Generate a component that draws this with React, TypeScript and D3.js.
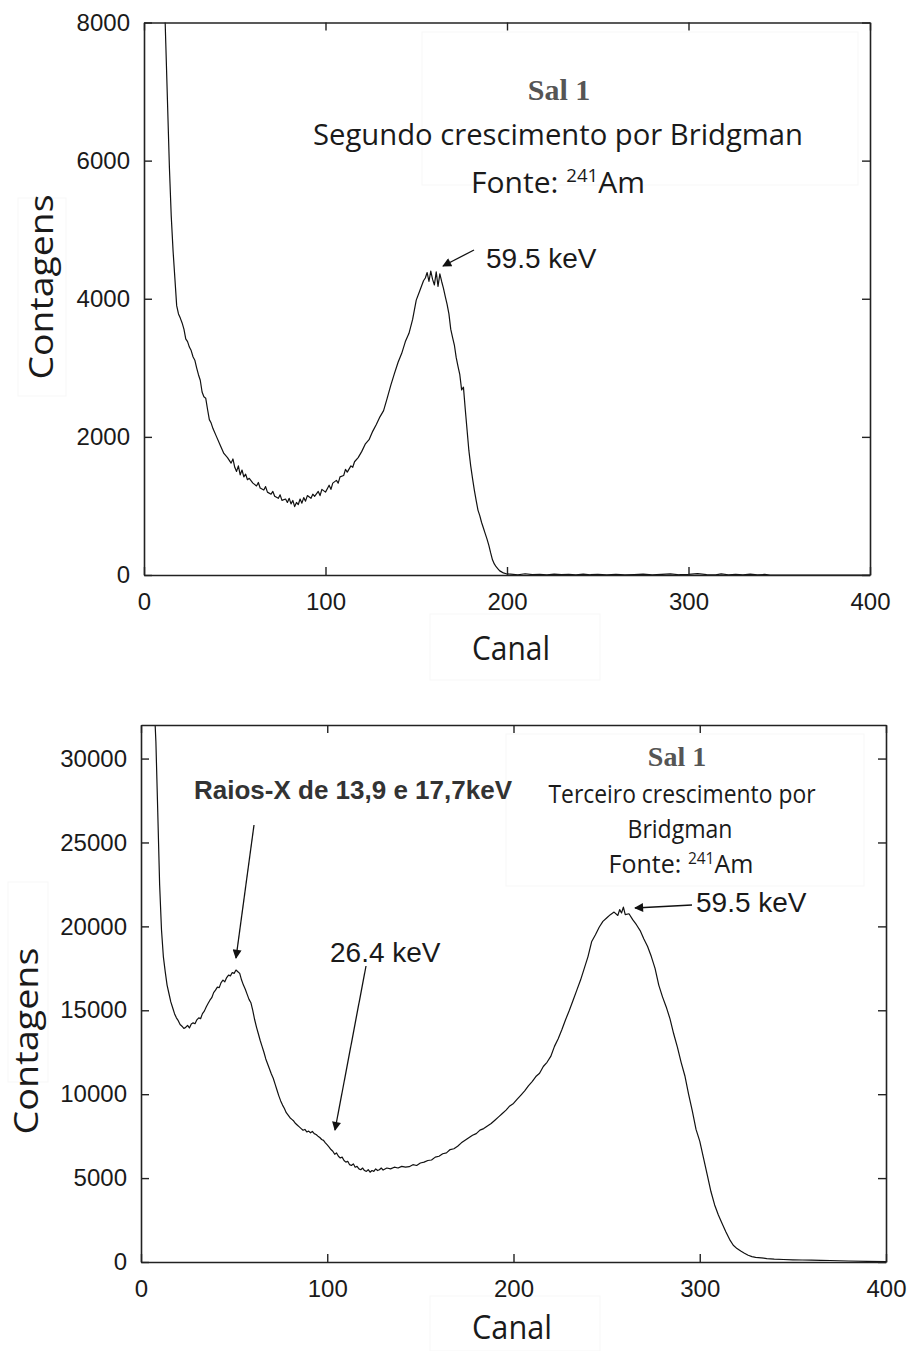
import React, { useEffect, useRef } from 'react';
import * as d3 from 'd3';

// espectro 1: segundo crescimento por Bridgman  [canal, contagens]
const segundo: [number, number][] = [
  [10, 9800], [11, 8600], [12, 7700], [13, 6800], [14, 5900], [15, 5200], [16, 4700], [17, 4300],
  [18, 3900], [19, 3780], [20, 3720], [21, 3650], [22, 3560], [23, 3420], [24, 3380], [25, 3300],
  [26, 3250], [27, 3160], [28, 3110], [29, 3000], [30, 2900], [31, 2820], [32, 2650], [33, 2580],
  [34, 2560], [35, 2400], [36, 2250], [37, 2200], [38, 2120], [40, 2000], [42, 1880], [44, 1760],
  [46, 1700], [48, 1620], [49, 1680], [50, 1560], [51, 1500], [52, 1580], [53, 1450], [54, 1520],
  [55, 1420], [56, 1460], [57, 1380], [58, 1400], [60, 1330], [62, 1290], [63, 1340], [64, 1260],
  [66, 1230], [67, 1280], [68, 1200], [70, 1170], [71, 1210], [72, 1140], [74, 1110], [75, 1160],
  [76, 1080], [78, 1100], [79, 1050], [80, 1110], [81, 1030], [82, 1080], [83, 990], [84, 1050],
  [85, 1020], [86, 1100], [87, 1040], [88, 1120], [89, 1070], [90, 1150], [92, 1110], [93, 1170],
  [94, 1140], [96, 1210], [97, 1150], [98, 1240], [100, 1200], [101, 1250], [102, 1300], [103, 1240],
  [104, 1330], [106, 1370], [107, 1330], [108, 1420], [110, 1440], [111, 1530], [112, 1490], [114, 1580],
  [115, 1560], [116, 1640], [118, 1700], [120, 1790], [122, 1900], [124, 1960], [126, 2080], [128, 2180],
  [130, 2290], [132, 2380], [134, 2560], [136, 2750], [138, 2920], [140, 3080], [142, 3210], [144, 3380],
  [146, 3500], [148, 3700], [150, 3980], [152, 4120], [154, 4260], [155, 4300], [156, 4380], [157, 4250],
  [158, 4400], [159, 4280], [160, 4200], [161, 4390], [162, 4180], [163, 4360], [164, 4250], [165, 4150],
  [166, 4030], [167, 3920], [168, 3780], [169, 3560], [170, 3440], [171, 3330], [172, 3150], [173, 3020],
  [174, 2900], [175, 2680], [176, 2720], [177, 2400], [178, 2100], [179, 1800], [180, 1580], [181, 1400],
  [182, 1230], [183, 1080], [184, 940], [185, 860], [186, 760], [187, 680], [188, 600], [189, 520],
  [190, 430], [191, 320], [192, 220], [193, 160], [194, 120], [195, 90], [196, 60], [197, 45],
  [198, 30], [200, 15], [202, 12], [206, 4], [210, 18], [214, 6], [218, 10], [222, 3],
  [226, 14], [230, 5], [234, 9], [238, 2], [242, 12], [246, 4], [250, 8], [255, 3],
  [260, 10], [265, 2], [270, 7], [275, 12], [280, 3], [285, 8], [290, 15], [295, 4],
  [300, 9], [305, 20], [310, 6], [315, 3], [318, 15], [322, 4], [326, 10], [330, 2],
  [334, 12], [338, 3], [342, 8], [345, 0], [400, 0],
];

// espectro 2: terceiro crescimento por Bridgman
const terceiro: [number, number][] = [
  [7, 33500], [8, 31000], [9, 26800], [10, 22500], [11, 19800], [12, 18200], [13, 17300], [14, 16500],
  [15, 16000], [16, 15500], [17, 15150], [18, 14800], [19, 14550], [20, 14380], [21, 14150], [22, 14050],
  [23, 13920], [24, 13980], [25, 14100], [26, 13950], [27, 14180], [28, 14250], [29, 14200], [30, 14430],
  [31, 14550], [32, 14500], [33, 14800], [34, 14950], [35, 15200], [36, 15400], [37, 15600], [38, 15750],
  [39, 16050], [40, 16200], [41, 16380], [42, 16350], [43, 16650], [44, 16800], [45, 16700], [46, 16950],
  [47, 17100], [48, 17050], [49, 17250], [50, 17200], [51, 17400], [52, 17300], [53, 17200], [54, 16800],
  [55, 16500], [56, 16250], [57, 15950], [58, 15650], [59, 15450], [60, 15000], [61, 14450], [62, 14000],
  [63, 13600], [64, 13200], [65, 12850], [66, 12500], [67, 12100], [68, 11800], [69, 11500], [70, 11200],
  [71, 10950], [72, 10600], [73, 10250], [74, 9900], [75, 9600], [76, 9350], [77, 9150], [78, 8900],
  [79, 8750], [80, 8600], [81, 8500], [82, 8400], [83, 8250], [84, 8150], [85, 8050], [86, 7950],
  [87, 7850], [88, 7900], [89, 7750], [90, 7800], [91, 7700], [92, 7780], [93, 7650], [94, 7600],
  [95, 7500], [96, 7420], [97, 7300], [98, 7250], [99, 7100], [100, 6980], [101, 6850], [102, 6700],
  [103, 6600], [104, 6420], [105, 6500], [106, 6300], [107, 6200], [108, 6250], [109, 6050], [110, 5950],
  [111, 6000], [112, 5800], [113, 5750], [114, 5850], [115, 5650], [116, 5700], [117, 5550], [118, 5500],
  [119, 5600], [120, 5450], [121, 5400], [122, 5500], [123, 5350], [124, 5450], [125, 5400], [126, 5550],
  [127, 5450], [128, 5500], [129, 5600], [130, 5480], [132, 5600], [134, 5550], [136, 5650], [138, 5600],
  [140, 5700], [142, 5650], [144, 5680], [146, 5800], [148, 5750], [150, 5900], [152, 5950], [154, 6050],
  [156, 6080], [158, 6250], [160, 6300], [162, 6450], [164, 6500], [166, 6700], [168, 6750], [170, 6900],
  [172, 7100], [174, 7250], [176, 7400], [178, 7550], [180, 7650], [182, 7860], [184, 7950], [186, 8100],
  [188, 8250], [190, 8450], [192, 8650], [194, 8850], [196, 9050], [198, 9300], [200, 9450], [202, 9700],
  [204, 9950], [206, 10200], [208, 10500], [210, 10750], [212, 11050], [214, 11250], [216, 11650], [218, 11900],
  [220, 12250], [222, 12850], [224, 13300], [226, 13850], [228, 14450], [230, 15000], [232, 15600], [234, 16200],
  [236, 16800], [238, 17500], [240, 18200], [242, 19100], [244, 19500], [246, 19950], [248, 20300], [250, 20500],
  [252, 20700], [254, 20850], [256, 20650], [257, 21000], [258, 20800], [259, 21150], [260, 20700], [262, 20750],
  [264, 20400], [266, 20100], [268, 19750], [270, 19250], [272, 18800], [274, 18200], [276, 17500], [278, 16500],
  [280, 15800], [282, 15200], [284, 14500], [286, 13600], [288, 12800], [290, 11900], [292, 11100], [294, 10000],
  [296, 9000], [298, 7900], [300, 7200], [302, 6200], [304, 5200], [306, 4200], [308, 3400], [310, 2800],
  [312, 2300], [314, 1800], [316, 1350], [318, 1000], [320, 800], [322, 650], [324, 520], [326, 400],
  [328, 320], [330, 280], [333, 250], [336, 200], [340, 170], [345, 150], [350, 130], [355, 120],
  [360, 110], [365, 100], [370, 90], [380, 60], [390, 40], [400, 30],
];

const canalTicks = [0, 100, 200, 300, 400];
const topTicks = [0, 2000, 4000, 6000, 8000];
const bottomTicks = [0, 5000, 10000, 15000, 20000, 25000, 30000];

const TICK_FONT = "'Liberation Sans', Arial, sans-serif";
const TITLE_FONT = "'Open Sans', 'Noto Sans', sans-serif";
const SERIF = "'Liberation Serif', 'Times New Roman', serif";

function drawPanel(svg, p) {
  const x = d3.scaleLinear().domain([0, 400]).range([p.left, p.right]);
  const y = d3.scaleLinear().domain([0, p.yMax]).range([p.bottom, p.top]);

  svg.select('defs').append('clipPath').attr('id', p.id)
    .append('rect')
    .attr('x', p.left).attr('y', p.top)
    .attr('width', p.right - p.left).attr('height', p.bottom - p.top);

  const line = d3.line().x((d) => x(d[0])).y((d) => y(d[1]));
  svg.append('path')
    .datum(p.data)
    .attr('d', line)
    .attr('clip-path', `url(#${p.id})`)
    .attr('fill', 'none')
    .attr('stroke', '#111')
    .attr('stroke-width', 1.2)
    .attr('stroke-linejoin', 'round');

  const style = (g) => {
    g.selectAll('.domain').attr('stroke', '#222').attr('stroke-width', 1.6);
    g.selectAll('.tick line').attr('stroke', '#222').attr('stroke-width', 1.4);
    g.selectAll('text').attr('font-family', TICK_FONT).attr('font-size', 24).attr('fill', '#1a1a1a');
  };

  svg.append('g').attr('transform', `translate(0,${p.bottom})`)
    .call(d3.axisBottom(x).tickValues(canalTicks).tickSize(-8).tickSizeOuter(0).tickPadding(18))
    .call(style);
  svg.append('g').attr('transform', `translate(0,${p.top})`)
    .call(d3.axisTop(x).tickValues(canalTicks).tickSize(-8).tickSizeOuter(0).tickFormat(() => ''))
    .call(style);
  svg.append('g').attr('transform', `translate(${p.left},0)`)
    .call(d3.axisLeft(y).tickValues(p.yTicks).tickSize(-8).tickSizeOuter(0).tickPadding(14).tickFormat(d3.format('d')))
    .call(style);
  svg.append('g').attr('transform', `translate(${p.right},0)`)
    .call(d3.axisRight(y).tickValues(p.yTicks).tickSize(-8).tickSizeOuter(0).tickFormat(() => ''))
    .call(style);

  return { x, y };
}

function addText(svg, t) {
  const el = svg.append('text')
    .attr('x', t.x).attr('y', t.y)
    .attr('text-anchor', t.anchor || 'middle')
    .attr('font-family', t.font)
    .attr('font-size', t.size)
    .attr('font-weight', t.weight || 'normal')
    .attr('fill', t.fill || '#1a1a1a');
  if (t.rotate) el.attr('transform', `rotate(-90,${t.x},${t.y})`);
  if (t.len) el.attr('textLength', t.len).attr('lengthAdjust', 'spacingAndGlyphs');
  el.text(t.text);
  return el;
}

function addFonte(svg, cx, y, size) {
  const el = svg.append('text')
    .attr('x', cx).attr('y', y)
    .attr('text-anchor', 'middle')
    .attr('font-family', TITLE_FONT)
    .attr('font-size', size)
    .attr('fill', '#1a1a1a');
  el.append('tspan').text('Fonte: ');
  el.append('tspan').attr('font-size', size * 0.62).attr('dy', -size * 0.38).text('241');
  el.append('tspan').attr('dy', size * 0.38).text('Am');
}

function addArrow(svg, x1, y1, x2, y2) {
  svg.append('line')
    .attr('x1', x1).attr('y1', y1).attr('x2', x2).attr('y2', y2)
    .attr('stroke', '#111').attr('stroke-width', 1.3)
    .attr('marker-end', 'url(#seta)');
}

function App() {
  const ref = useRef(null);

  useEffect(() => {
    const svg = d3.select(ref.current);
    svg.selectAll('*').remove();
    const defs = svg.append('defs');
    defs.append('marker')
      .attr('id', 'seta')
      .attr('viewBox', '0 0 10 10')
      .attr('refX', 9).attr('refY', 5)
      .attr('markerUnits', 'userSpaceOnUse')
      .attr('markerWidth', 12).attr('markerHeight', 9)
      .attr('orient', 'auto')
      .append('path').attr('d', 'M0,0 L10,5 L0,10 Z').attr('fill', '#111');

    svg.append('rect').attr('width', 910).attr('height', 1351).attr('fill', '#fff');

    // caixas de texto coladas (quase invisiveis)
    const faint = [[422, 32, 436, 153], [18, 198, 48, 198], [430, 614, 170, 66], [506, 734, 358, 152], [8, 882, 40, 200], [430, 1296, 170, 55]];
    faint.forEach(([bx, by, bw, bh]) => {
      svg.append('rect').attr('x', bx).attr('y', by).attr('width', bw).attr('height', bh)
        .attr('fill', 'none').attr('stroke', '#f7f7f7').attr('stroke-width', 1);
    });

    // painel superior
    drawPanel(svg, { id: 'clipTop', left: 144, right: 870, top: 22.5, bottom: 575, yMax: 8000, yTicks: topTicks, data: segundo });
    addText(svg, { x: 53, y: 287, text: 'Contagens', font: TITLE_FONT, size: 33, rotate: true, len: 185 });
    addText(svg, { x: 511, y: 660, text: 'Canal', font: TITLE_FONT, size: 32, len: 78 });
    addText(svg, { x: 559, y: 100, text: 'Sal 1', font: SERIF, size: 30, weight: 'bold', fill: '#555' });
    addText(svg, { x: 558, y: 145, text: 'Segundo crescimento por Bridgman', font: TITLE_FONT, size: 30, len: 490 });
    addFonte(svg, 558, 193, 30);
    addText(svg, { x: 486, y: 268, text: '59.5 keV', font: TICK_FONT, size: 28, anchor: 'start' });
    addArrow(svg, 474, 250, 443, 266);

    // painel inferior
    drawPanel(svg, { id: 'clipBottom', left: 141, right: 886, top: 725, bottom: 1262, yMax: 32000, yTicks: bottomTicks, data: terceiro });
    addText(svg, { x: 38, y: 1041, text: 'Contagens', font: TITLE_FONT, size: 33, rotate: true, len: 187 });
    addText(svg, { x: 512, y: 1339, text: 'Canal', font: TITLE_FONT, size: 32, len: 80 });
    addText(svg, { x: 677, y: 766, text: 'Sal 1', font: SERIF, size: 28, weight: 'bold', fill: '#555' });
    addText(svg, { x: 682, y: 803, text: 'Terceiro crescimento por', font: TITLE_FONT, size: 25, len: 267 });
    addText(svg, { x: 680, y: 838, text: 'Bridgman', font: TITLE_FONT, size: 25, len: 105 });
    addFonte(svg, 681, 873, 25);
    addText(svg, { x: 696, y: 912, text: '59.5 keV', font: TICK_FONT, size: 28, anchor: 'start' });
    addArrow(svg, 692, 905, 635, 908);
    addText(svg, { x: 194, y: 799, text: 'Raios-X de 13,9 e 17,7keV', font: TICK_FONT, size: 26, weight: 'bold', anchor: 'start', fill: '#333' });
    addArrow(svg, 254, 825, 236, 958);
    addText(svg, { x: 330, y: 962, text: '26.4 keV', font: TICK_FONT, size: 28, anchor: 'start' });
    addArrow(svg, 366, 966, 335, 1130);
  }, []);

  return (
    <svg ref={ref} width={910} height={1351}
      style={{ position: 'absolute', left: 0, top: 0, display: 'block' }} />
  );
}

export default App;
